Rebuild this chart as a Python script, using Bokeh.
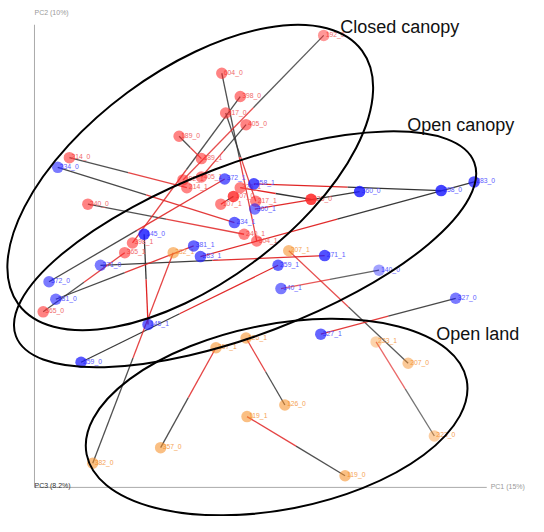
import numpy as np
from bokeh.plotting import figure
from bokeh.models import ColumnDataSource, Range1d
from bokeh.core.properties import value
from bokeh.embed import file_html
from bokeh.resources import INLINE

# ---- data (PCoA scores) ----
samples = ["192", "604", "398", "217", "405", "189", "214", "240", "365", "107", "325",
           "234", "145", "372", "381", "271", "283", "258", "360", "259", "140", "327",
           "382", "207", "357", "126", "119", "223"]
habitat = ["Closed canopy"] * 11 + ["Open canopy"] * 11 + ["Open land"] * 6

pc1_0 = [2.98, 1.93, 2.12, 1.97, 2.18, 1.49, 0.36, 0.55, 0.09, 2.05, 2.85,
         0.24, 1.13, 0.15, 0.22, 0.68, 4.53, 4.19, 3.35, 0.48, 3.55, 4.34,
         0.60, 3.85, 1.30, 2.58, 3.20, 4.12]
pc2_0 = [4.66, 4.27, 4.03, 3.86, 3.74, 3.62, 3.40, 2.92, 1.81, 3.00, 2.97,
         3.30, 2.61, 2.12, 1.94, 2.29, 3.15, 3.06, 3.05, 1.29, 2.24, 1.95,
         0.25, 1.28, 0.41, 0.85, 0.12, 0.53]
pc1_1 = [1.53, 2.29, 1.01, 2.28, 1.72, 1.72, 1.57, 2.16, 0.93, 1.92, 2.12,
         2.06, 1.17, 1.96, 1.64, 2.99, 1.71, 2.26, 2.27, 2.51, 2.54, 2.95,
         1.43, 2.62, 1.87, 2.18, 2.19, 3.52]
pc2_1 = [3.17, 2.54, 2.52, 2.95, 3.20, 3.39, 3.09, 2.61, 2.42, 2.92, 3.09,
         2.73, 1.68, 3.18, 2.49, 2.39, 2.38, 3.13, 2.87, 2.29, 2.05, 1.58,
         2.42, 2.44, 1.44, 1.54, 0.73, 1.50]
# depth (third axis) used for the fading of the 3-D view
pc3_0 = [-0.3, 0.0, 0.0, 0.0, 0.0, 0.0, 0.0, 0.0, 0.0, 0.8, 1.0,
         0.0, 0.8, 0.0, 0.0, 0.0, 0.5, 0.8, 0.8, 0.5, -0.6, 0.0,
         0.0, -0.3, 0.0, 0.0, 0.0, -0.5]
pc3_1 = [0.0, 0.0, 0.0, 0.0, 0.0, 0.0, 0.0, 0.0, 0.0, 0.0, 0.0,
         0.3, 0.3, 0.3, 0.3, 0.6, 0.3, 0.6, 0.0, 0.3, 0.0, 0.3,
         0.0, 0.0, 0.0, 0.0, 0.0, -0.6]

ellipse_habitat = ["Closed canopy", "Open canopy", "Open land"]
ellipse_x = [1.605, 2.17, 2.495]
ellipse_y = [3.195, 2.455, 0.725]
ellipse_w = [4.40, 5.05, 3.99]
ellipse_h = [2.18, 1.76, 1.91]
ellipse_angle_deg = [36.45, 20.78, 11.1]

axis_names = ["PC1 (15%)", "PC2 (10%)", "PC3 (8.2%)"]

# ---- styling ----
point_color = {"Closed canopy": "#ff2a2a", "Open canopy": "#1a1aff", "Open land": "#f7902a"}
label_color = {"Closed canopy": "#f06a6a", "Open canopy": "#5c5cff", "Open land": "#f5a355"}

p = figure(width=528, height=516, x_range=Range1d(-0.35, 5.09), y_range=Range1d(-0.30, 5.02),
           output_backend="svg", toolbar_location=None, x_axis_type=None, y_axis_type=None,
           min_border=0)
p.grid.visible = False
p.outline_line_color = None
p.background_fill_color = "white"
p.border_fill_color = "white"

# axes of the 3-D view
p.segment(x0=[0, 0], y0=[0, 0], x1=[0, 4.66], y1=[4.77, 0], line_color="#aaaaaa", line_width=1)
p.text(x=[0], y=[4.90], text=[axis_names[1]], text_font=value("Liberation Sans"),
       text_font_size="7px", text_color="#999999", text_baseline="middle")
p.text(x=[0], y=[0.015], text=[axis_names[2]], text_font=value("Liberation Sans"),
       text_font_size="7px", text_color="#333333", text_baseline="middle")
p.text(x=[4.70], y=[0.01], text=[axis_names[0]], text_font=value("Liberation Sans"),
       text_font_size="7px", text_color="#999999", text_baseline="middle")

# procrustes-style connecting lines: black half at _0, red half at _1
x0 = np.array(pc1_0); y0 = np.array(pc2_0)
x1 = np.array(pc1_1); y1 = np.array(pc2_1)
mx = (x0 + x1) / 2; my = (y0 + y1) / 2
depth = (np.array(pc3_0) + np.array(pc3_1)) / 2
lalpha = np.clip(0.85 + 0.3 * depth, 0.35, 1.0)
p.segment(x0=x0, y0=y0, x1=mx, y1=my, line_color="#333333", line_width=1.3, line_alpha=lalpha)
p.segment(x0=mx, y0=my, x1=x1, y1=y1, line_color="#e02424", line_width=1.3, line_alpha=lalpha)

# points
px, py, names, cols, lcols, alphas = [], [], [], [], [], []
for i, s in enumerate(samples):
    for k, (xx, yy, dd) in enumerate([(pc1_0[i], pc2_0[i], pc3_0[i]), (pc1_1[i], pc2_1[i], pc3_1[i])]):
        px.append(xx); py.append(yy); names.append(f"{s}_{k}")
        cols.append(point_color[habitat[i]]); lcols.append(label_color[habitat[i]])
        alphas.append(float(np.clip(0.58 + 0.3 * dd, 0.3, 0.95)))
src = ColumnDataSource(dict(x=px, y=py, name=names, color=cols, lcolor=lcols, alpha=alphas))
p.text(x="x", y="y", text="name", source=src, text_font=value("Liberation Sans"),
       text_font_size="6.8px", text_color="lcolor", text_baseline="middle", x_offset=2, y_offset=-1)
p.scatter(x="x", y="y", source=src, size=11.5, fill_color="color", fill_alpha="alpha",
          line_color=None)

# habitat ellipses
p.ellipse(x=ellipse_x, y=ellipse_y, width=ellipse_w, height=ellipse_h,
          angle=np.radians(ellipse_angle_deg), fill_color=None, line_color="black", line_width=2)

# habitat names
p.text(x=[3.15, 3.84, 4.14], y=[4.75, 3.74, 1.58], text=ellipse_habitat,
       text_font=value("Liberation Sans"), text_font_size="18px", text_color="#111111",
       text_baseline="alphabetic")

open("out.html", "w").write(file_html(p, INLINE))
